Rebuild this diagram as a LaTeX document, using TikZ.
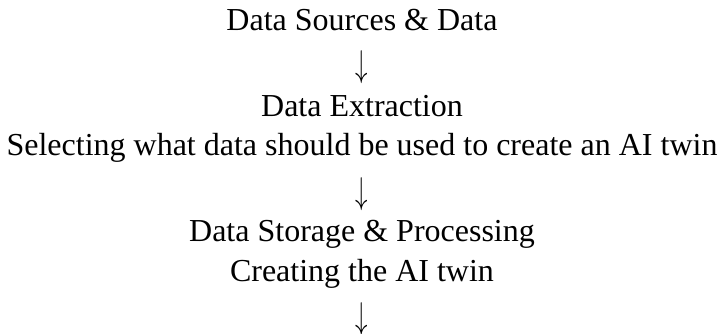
\documentclass[tikz,border=0pt]{standalone}
\usepackage{graphicx}
\usepackage{fontspec}
\setmainfont{Liberation Serif}
\newcommand{\tallarrow}{\scalebox{1}[1.5]{$\downarrow$}}
\begin{document}
\begin{tikzpicture}[x=1pt,y=-1pt,
  txt/.style={font=\fontsize{32}{38}\selectfont, inner sep=0pt, anchor=base, text=black},
  arr/.style={font=\fontsize{28}{32}\selectfont, inner sep=0pt, anchor=base, text=black}]
\useasboundingbox (0,0) rectangle (724,334);
\node[txt] (l1) at (362,31) {Data Sources \& Data};
\node[arr] (a1) at (362,77) {\tallarrow};
\node[txt] (l3) at (362,117) {Data Extraction};
\node[txt] (l4) at (362,156) {Selecting what data should be used to create an AI twin};
\node[arr] (a2) at (362,204) {\tallarrow};
\node[txt] (l6) at (362,242) {Data Storage \& Processing};
\node[txt] (l7) at (362,282) {Creating the AI twin};
\node[arr] (a3) at (362,329) {\tallarrow};
\end{tikzpicture}
\end{document}
